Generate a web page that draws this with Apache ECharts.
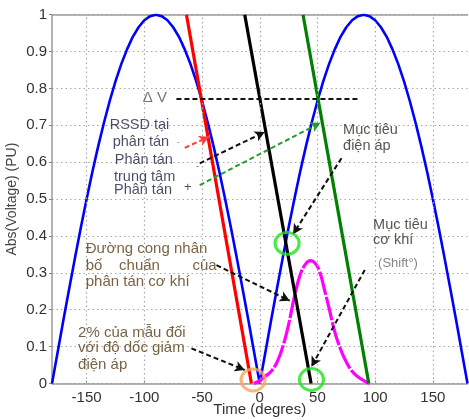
<!DOCTYPE html>
<html>
<head>
<meta charset="utf-8">
<script src="https://cdn.jsdelivr.net/npm/echarts@6/dist/echarts.min.js"></script>
<style>
html,body{margin:0;padding:0;background:#fff;}
#chart{width:469px;height:420px;}
</style>
</head>
<body>
<div id="chart"></div>
<script>
// ---- data ----
const xTicks = [-150, -100, -50, 0, 50, 100, 150];
const yTicks = [0, 0.1, 0.2, 0.3, 0.4, 0.5, 0.6, 0.7, 0.8, 0.9, 1];

// Abs(voltage) curve (blue)
const blueX = [-180,-175,-170,-165,-160,-155,-150,-145,-140,-135,-130,-125,-120,-115,-110,-105,-100,-95,-90,-85,-80,-75,-70,-65,-60,-55,-50,-45,-40,-35,-30,-25,-20,-15,-10,-5,0,5,10,15,20,25,30,35,40,45,50,55,60,65,70,75,80,85,90,95,100,105,110,115,120,125,130,135,140,145,150,155,160,165,170,175,180];
const blueY = [0,0.087,0.174,0.259,0.342,0.423,0.5,0.574,0.643,0.707,0.766,0.819,0.866,0.906,0.94,0.966,0.985,0.996,1,0.996,0.985,0.966,0.94,0.906,0.866,0.819,0.766,0.707,0.643,0.574,0.5,0.423,0.342,0.259,0.174,0.087,0,0.087,0.174,0.259,0.342,0.423,0.5,0.574,0.643,0.707,0.766,0.819,0.866,0.906,0.94,0.966,0.985,0.996,1,0.996,0.985,0.966,0.94,0.906,0.866,0.819,0.766,0.707,0.643,0.574,0.5,0.423,0.342,0.259,0.174,0.087,0];

// straight slopes
const redX = [-63.5, -7.2],  redY = [1, 0];
const blackX = [-13, 44.5],  blackY = [1, 0];
const greenX = [37.5, 94.5], greenY = [1, 0];

// mechanical dispersion bell curve (magenta)
const magX = [-5,0,5,10,15,20,25,30,35,40,44,48,52,56,60,65,70,75,80,85,90,95];
const magY = [0,0.008,0.02,0.033,0.058,0.1,0.16,0.235,0.295,0.325,0.333,0.326,0.303,0.255,0.205,0.14,0.093,0.058,0.033,0.018,0.008,0];

// target markers
const greenMarks = [[23.7, 0.38], [44.8, 0.011]];
const orangeMarks = [[-5.8, 0.0095]];

// ---- annotations (data coordinates) ----
const NAVY = '#1c2240', BROWN = '#553a12', DARK = '#2e2a22';
const texts = [
  [-101.4, 0.774, 'Δ V', '#555555', 15],
  [-130.0, 0.701, 'RSSD tại', NAVY, 14.5],
  [-127.4, 0.655, 'phân tán', NAVY, 14.5],
  [-72.2, 0.655, '-', '#f08a8a', 11],
  [-125.6, 0.606, 'Phân tán', NAVY, 14.5],
  [-126.3, 0.561, 'trung tâm', NAVY, 14.5],
  [-126.3, 0.525, 'Phân tán', NAVY, 14.5],
  [-65.6, 0.532, '+', NAVY, 13],
  [-55.5, 0.59, '-', '#666666', 10],
  [72.2, 0.687, 'Mục tiêu', DARK, 14.5],
  [72.2, 0.644, 'điện áp', DARK, 14.5],
  [98.2, 0.430, 'Mục tiêu', DARK, 14.5],
  [98.2, 0.389, 'cơ khí', DARK, 14.5],
  [102.5, 0.326, '(Shift°)', '#666666', 13],
  [-150.8, 0.364, 'Đường cong nhân', BROWN, 15],
  [-150.8, 0.319, 'bố', BROWN, 15],
  [-121.9, 0.319, 'chuẩn', BROWN, 15],
  [-58.3, 0.319, 'của', BROWN, 15],
  [-150.8, 0.276, 'phân tán cơ khí', BROWN, 15],
  [-157.4, 0.138, '2% của mẫu đối', BROWN, 15],
  [-157.4, 0.0954, 'với độ dốc giảm', BROWN, 15],
  [-157.4, 0.050, 'điện áp', BROWN, 15]
];
const arrows = [
  [-65, 0.639, -43.9, 0.669, '#ff3b3b', true],
  [-52, 0.597, 4.3, 0.682, '#111111', true],
  [-52, 0.538, 52.6, 0.707, '#2a9a2a', true],
  [-72.2, 0.772, 84.6, 0.772, '#111111', false],
  [70.8, 0.611, 28.9, 0.405, '#111111', true],
  [-37.5, 0.321, 26, 0.2245, '#111111', true],
  [-59.2, 0.0954, -13, 0.0366, '#111111', true],
  [91, 0.308, 44.8, 0.0456, '#111111', true]
];

const zip = (a, b) => a.map((v, i) => [v, b[i]]);
const FONT = '"Liberation Sans", Arial, sans-serif';
const GRIDLINE = {color: '#a8a8a8', type: [1.5, 3], width: 1.2};

const chart = echarts.init(document.getElementById('chart'), null, {renderer: 'canvas'});

const lineSeries = (xs, ys, color, width, extra) => Object.assign({
  type: 'line', data: zip(xs, ys), showSymbol: false, symbol: 'none',
  lineStyle: {color: color, width: width}, silent: true, animation: false
}, extra || {});

const series = [
  // vertical dotted grid lines
  {
    type: 'line', data: [], silent: true, animation: false, z: 0,
    markLine: {
      silent: true, symbol: ['none', 'none'], label: {show: false}, animation: false,
      lineStyle: GRIDLINE,
      data: xTicks.map(v => [{coord: [v, yTicks[0]]}, {coord: [v, yTicks[yTicks.length - 1]]}])
    }
  },
  lineSeries(blueX, blueY, '#0000ff', 2.6),
  lineSeries(magX, magY, '#ff00ff', 3.2, {smooth: 0.4, lineStyle: {color: '#ff00ff', width: 3.2, type: [24, 2]}}),
  lineSeries(redX, redY, '#ff0000', 3.2),
  lineSeries(blackX, blackY, '#000000', 3.2),
  lineSeries(greenX, greenY, '#008000', 3.2),
  // arrows
  {
    type: 'line', data: [], silent: true, animation: false,
    markLine: {
      silent: true, label: {show: false}, animation: false,
      data: arrows.map(a => [
        {coord: [a[0], a[1]], symbol: 'none'},
        {coord: [a[2], a[3]], symbol: a[5] ? 'arrow' : 'none', symbolSize: [8, 10],
         lineStyle: {color: a[4], type: [5, 3], width: 2}, itemStyle: {color: a[4]}}
      ]),
      lineStyle: {type: [5, 3], width: 2}
    }
  },
  // circles
  {
    type: 'scatter', data: greenMarks, symbol: 'circle', symbolSize: [24, 22], silent: true, animation: false, clip: false,
    itemStyle: {color: 'rgba(0,0,0,0)', borderColor: '#22e022', borderWidth: 3}, z: 5
  },
  {
    type: 'scatter', data: orangeMarks, symbol: 'circle', symbolSize: [24, 22], silent: true, animation: false, clip: false,
    itemStyle: {color: 'rgba(0,0,0,0)', borderColor: '#f7a35c', borderWidth: 3}, z: 5
  },
  // text annotations
  {
    type: 'scatter', symbolSize: 0, silent: true, animation: false, clip: false, z: 10,
    data: texts.map(t => ({
      value: [t[0], t[1]],
      label: {show: true, formatter: t[2], color: t[3], fontSize: t[4], fontFamily: FONT,
              position: [0, 0], align: 'left', verticalAlign: 'middle'}
    }))
  }
];

chart.setOption({
  animation: false,
  backgroundColor: '#ffffff',
  grid: {left: 52, top: 14.7, width: 415.5, bottom: 36.5, containLabel: false, outerBoundsMode: 'none'},
  xAxis: [{
    type: 'value', min: -180, max: 180, interval: 10,
    name: 'Time (degres)', nameLocation: 'middle', nameGap: 19, nameMoveOverlap: false,
    nameTextStyle: {color: '#333333', fontSize: 15, fontFamily: FONT},
    axisLine: {show: true, onZero: false, lineStyle: {color: '#9a9a9a', width: 1.5}},
    axisTick: {show: true, customValues: xTicks, length: 3, inside: true, lineStyle: {color: '#888'}},
    axisLabel: {customValues: xTicks, color: '#333333', fontSize: 15, fontFamily: FONT, margin: 7,
                formatter: v => (xTicks.indexOf(v) >= 0 ? String(v) : '')},
    splitLine: {show: false}
  }, {
    type: 'value', min: -180, max: 180, position: 'top',
    axisLine: {show: true, onZero: false, lineStyle: {color: '#9a9a9a', width: 1.5}},
    axisTick: {show: false}, axisLabel: {show: false}, splitLine: {show: false}
  }],
  yAxis: {
    type: 'value', min: 0, max: 1, interval: 0.1,
    name: 'Abs(Voltage) (PU)', nameLocation: 'middle', nameGap: 33, nameRotate: 90, nameMoveOverlap: false,
    nameTextStyle: {color: '#444444', fontSize: 14, fontFamily: FONT},
    axisLine: {show: true, onZero: false, lineStyle: {color: '#9a9a9a', width: 1.5}},
    axisTick: {show: true, length: 3, lineStyle: {color: '#888'}},
    axisLabel: {color: '#333333', fontSize: 15, fontFamily: FONT, margin: 5,
                formatter: v => String(Math.round(v * 10) / 10)},
    splitLine: {show: true, lineStyle: GRIDLINE}
  },
  series: series
});
</script>
</body>
</html>
